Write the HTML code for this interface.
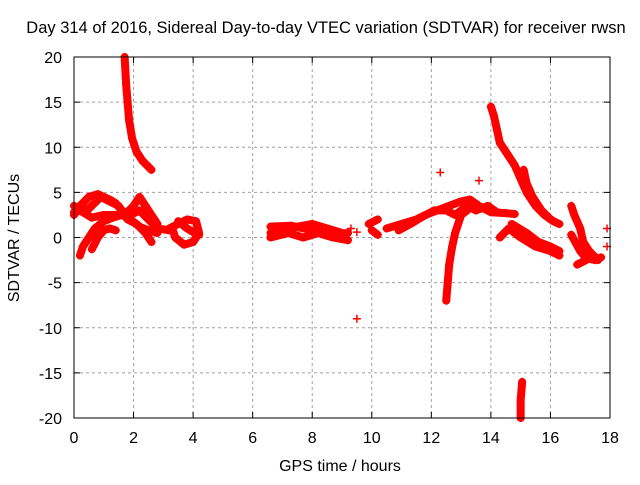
<!DOCTYPE html>
<html><head><meta charset="utf-8"><style>
body{margin:0;background:#fff}
svg{font-family:"Liberation Sans",sans-serif;font-size:16px}
</style></head><body>
<svg id="c" width="640" height="480">
<text x="326" y="33" text-anchor="middle" style="font-size:16.5px">Day 314 of 2016, Sidereal Day-to-day VTEC variation (SDTVAR) for receiver rwsn</text>
<text x="340" y="471" text-anchor="middle">GPS time / hours</text>
<text transform="translate(19,238) rotate(-90)" text-anchor="middle">SDTVAR / TECUs</text>
<g id="grid"></g><g id="marks"></g><g id="ax"></g>
</svg>
<script>
const xTicks=[0,2,4,6,8,10,12,14,16,18];
const yTicks=[-20,-15,-10,-5,0,5,10,15,20];
const tracks=[
[[1.7,20],[1.75,17],[1.8,15],[1.85,13],[1.95,11],[2.1,9.5],[2.3,8.5],[2.6,7.5]],
[[0,2.5],[0.2,3.5],[0.5,4.5],[0.8,4.8],[1.0,4.5],[1.2,4.2],[1.4,3.8],[1.6,3.0],[1.9,2.5],[2.2,3.0],[2.5,2.0],[2.8,1.0],[3.2,0.8]],
[[0,3.5],[0.3,2.8],[0.6,2.2],[1.0,2.5],[1.4,2.5],[1.7,2.5],[2.0,3.5],[2.2,4.5],[2.4,3.5],[2.6,2.5],[2.8,1.5]],
[[0,2.8],[0.5,3.2],[0.9,4.5],[1.2,4.0],[1.5,3.5],[1.8,2.0],[2.1,1.5],[2.4,0.5],[2.6,-0.5]],
[[0.2,-2],[0.3,-1.0],[0.5,0],[0.7,1.0],[1.0,1.8],[1.3,2.2],[1.6,2.5],[1.9,2.0],[2.2,1.2],[2.5,0.8],[2.8,0.5]],
[[0.6,-1.3],[0.8,0],[1.0,0.8],[1.2,1.0],[1.4,0.8]],
[[3.2,1.0],[3.5,1.5],[3.8,2.0],[4.1,1.8],[4.2,0.5],[4.0,-0.5],[3.7,-0.8],[3.4,0],[3.3,1.0]],
[[3.5,1.8],[3.8,1.0],[4.0,0.6],[4.2,0.3]],
[[6.6,0.5],[7.0,1.0],[7.5,1.2],[8.0,1.5],[8.5,1.0],[9.0,0.5]],
[[6.6,0],[7.2,0.5],[7.7,0],[8.2,0.5],[8.7,0],[9.2,-0.3]],
[[6.6,1.2],[7.3,1.3],[8.0,0.8],[8.6,0.3],[9.2,0.5]],
[[9.9,1.5],[10.2,2.0]],[[10.0,0.8],[10.2,0.3]],
[[10.5,1.0],[11.0,1.5],[11.5,2.0],[11.8,2.5],[12.2,3.0],[12.6,3.5],[13.0,4.0],[13.3,4.2],[13.6,3.5],[14.0,2.8],[14.5,2.7],[14.8,2.6]],
[[10.9,0.8],[11.3,1.5],[11.7,2.3],[12.1,3.0],[12.5,3.0],[12.8,2.5],[13.2,3.5],[13.5,3.0],[13.9,3.5],[14.2,2.8]],
[[12.5,-7],[12.55,-5],[12.6,-3],[12.7,-1],[12.8,0.5],[12.9,1.5],[13.0,2.5],[13.2,3.0]],
[[14.0,14.5],[14.1,13.5],[14.2,12],[14.3,10.5],[14.5,9.5],[14.8,8.0],[15.0,6.5],[15.2,5.0],[15.5,3.5],[15.8,2.5],[16.1,1.8],[16.3,1.5]],
[[15.1,7.5],[15.2,6],[15.4,4.5],[15.7,3.0],[16.0,2.0]],
[[14.3,0],[14.6,1.0],[15.0,0],[15.5,-1.0],[16.0,-1.5],[16.3,-2.0]],
[[14.7,1.5],[15.2,0.5],[15.6,-0.5],[16.0,-1.0],[16.3,-1.5]],
[[16.7,3.5],[16.8,2.5],[17.0,1.0],[17.1,-0.5],[17.3,-1.5],[17.6,-2.5]],
[[16.7,0.3],[17.0,-1.5],[17.2,-2.3],[17.5,-2.5],[17.7,-2.2]],
[[16.9,-3],[17.2,-2.5]],
[[15.0,-20],[15.0,-18],[15.05,-16]]
];
const singles=[[17.9,1.0],[17.9,-1.0],[12.3,7.2],[13.6,6.3],[9.5,-9],[9.3,1.0],[9.5,0.6]];
const L=74,R=610,T=57,B=418,NS="http://www.w3.org/2000/svg";
const sx=h=>L+(h-0)/(18-0)*(R-L), sy=v=>B-(v+20)/40*(B-T);
function mk(t,a,p){const e=document.createElementNS(NS,t);for(const k in a)e.setAttribute(k,a[k]);p.appendChild(e);return e;}
const g=document.getElementById('grid'),m=document.getElementById('marks'),ax=document.getElementById('ax');
xTicks.forEach(t=>{const x=sx(t);
 if(t>0&&t<18){const l=mk('line',{x1:x,x2:x,y1:T,y2:B,stroke:'#a0a0a0','stroke-dasharray':'3,3'},g);}
 mk('line',{x1:x,x2:x,y1:B,y2:B-6,stroke:'#000'},ax);mk('line',{x1:x,x2:x,y1:T,y2:T+6,stroke:'#000'},ax);
 const tx=mk('text',{x:x,y:B+25,'text-anchor':'middle'},ax);tx.textContent=t;
 });
yTicks.forEach(t=>{const y=sy(t);
 if(t>-20&&t<20){const l=mk('line',{x1:L,x2:R,y1:y,y2:y,stroke:'#a0a0a0','stroke-dasharray':'3,3'},g);}
 mk('line',{x1:L,x2:L+6,y1:y,y2:y,stroke:'#000'},ax);mk('line',{x1:R,x2:R-6,y1:y,y2:y,stroke:'#000'},ax);
 const tx=mk('text',{x:L-12,y:y+6,'text-anchor':'end'},ax);tx.textContent=t;
 });
const fr=mk('rect',{x:L,y:T,width:R-L,height:B-T,fill:'none',stroke:'#000'},ax);

function plus(p,x,y){mk('path',{d:`M${x-4},${y}h8M${x},${y-4}v8`,stroke:'#f00','stroke-width':1.5},p);}
tracks.forEach(tr=>{const gg=mk('g',{},m);
 
 mk('polyline',{points:tr.map(p=>sx(p[0])+','+sy(p[1])).join(' '),fill:'none',stroke:'#f00','stroke-width':8,'stroke-linejoin':'round','stroke-linecap':'round'},gg);
 tr.forEach(p=>plus(gg,sx(p[0]),sy(p[1])));});
singles.forEach(p=>{const gg=mk('g',{},m);
 
 plus(gg,sx(p[0]),sy(p[1]));});
</script>
</body></html>
